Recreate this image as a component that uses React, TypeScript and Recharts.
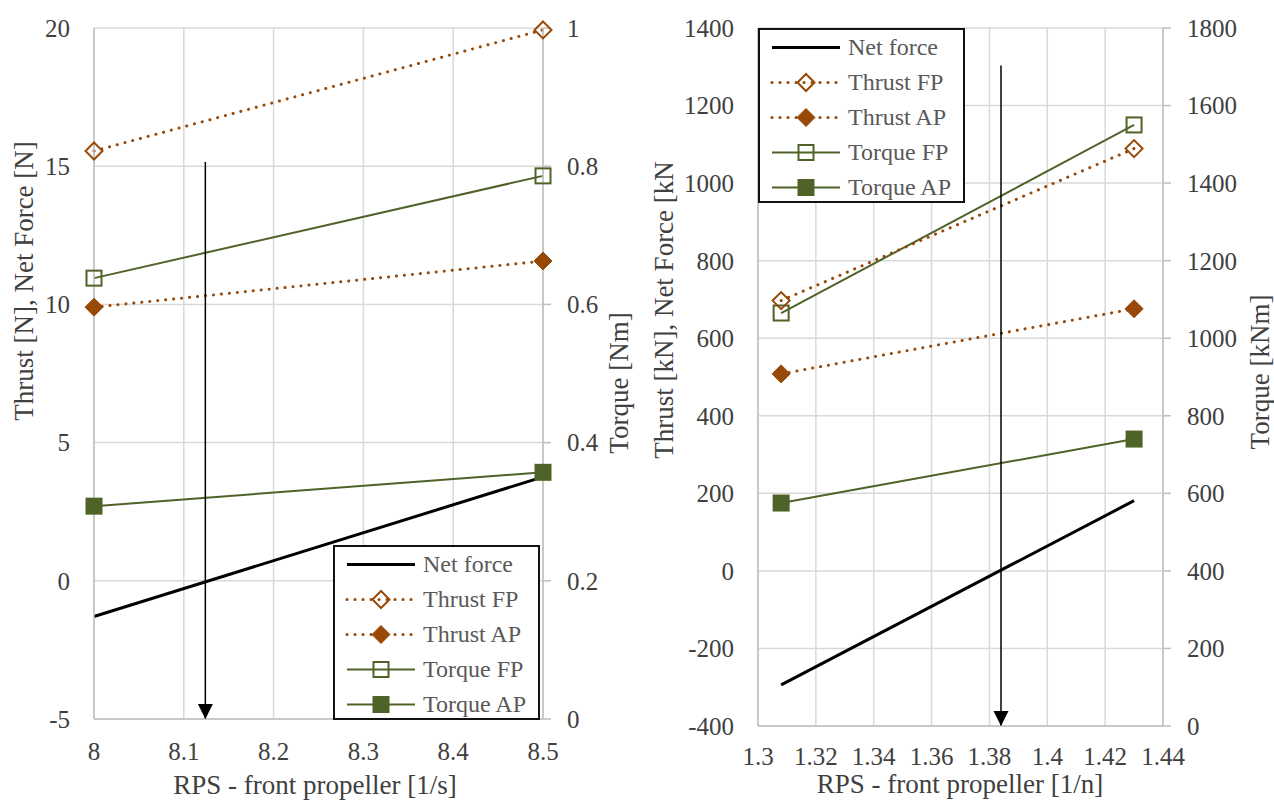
import React from 'react';
import { ComposedChart, Line, XAxis, YAxis, CartesianGrid, Legend } from 'recharts';

const FONT = 'Liberation Serif';
const BROWN = '#984807';
const GREEN = '#4F6228';
const GRID = '#d9d9d9';
const AXIS = '#bfbfbf';
const TEXT = '#404040';

// model scale (left chart)
const rpsModel = [8, 8.5];
const netForceModel = [-1.29, 3.76];
const thrustFpModel = [15.55, 19.93];
const thrustApModel = [9.9, 11.57];
const torqueFpModel = [0.638, 0.786];
const torqueApModel = [0.308, 0.357];
const arrowModelX = [8.124, 8.124];
const arrowModelY = [15.15, -5];
const modelXTicks = [8, 8.1, 8.2, 8.3, 8.4, 8.5];
const modelForceTicks = [-5, 0, 5, 10, 15, 20];
const modelTorqueTicks = [0, 0.2, 0.4, 0.6, 0.8, 1];

// full scale (right chart)
const rpsShip = [1.308, 1.43];
const netForceShip = [-294, 181];
const thrustFpShip = [697, 1089];
const thrustApShip = [508, 676];
const torqueFpShip = [1065, 1550];
const torqueApShip = [575, 740];
const arrowShipX = [1.384, 1.384];
const arrowShipY = [1303, -400];
const shipXTicks = [1.3, 1.32, 1.34, 1.36, 1.38, 1.4, 1.42, 1.44];
const shipForceTicks = [-400, -200, 0, 200, 400, 600, 800, 1000, 1200, 1400];
const shipTorqueTicks = [0, 200, 400, 600, 800, 1000, 1200, 1400, 1600, 1800];

const pts = (xs: number[], ys: number[]) => xs.map((x, i) => ({ x, y: ys[i] }));

const DOTTED = '0.1 7.9';

const diamondPath = (cx: number, cy: number, r: number) =>
  `M${cx},${cy - r}L${cx + r},${cy}L${cx},${cy + r}L${cx - r},${cy}Z`;

const marker = (kind: string, cx: number, cy: number, key?: any) => {
  if (kind === 'diamondOpen')
    return <path key={key} d={diamondPath(cx, cy, 8.5)} fill="none" stroke={BROWN} strokeWidth={2} />;
  if (kind === 'diamond')
    return <path key={key} d={diamondPath(cx, cy, 9)} fill={BROWN} stroke={BROWN} strokeWidth={1} />;
  if (kind === 'squareOpen')
    return <rect key={key} x={cx - 7.5} y={cy - 7.5} width={15} height={15} fill="none" stroke={GREEN} strokeWidth={2} />;
  if (kind === 'square')
    return <rect key={key} x={cx - 8.5} y={cy - 8.5} width={17} height={17} fill={GREEN} />;
  return <g key={key} />;
};

const dotOf = (kind: string) => (p: any) => {
  const k = p.key ?? `d-${p.index}`;
  if (p.cx == null || p.cy == null) return <g key={k} />;
  return marker(kind, p.cx, p.cy, k);
};

const arrowHead = (p: any) => {
  const k = p.key ?? `a-${p.index}`;
  if (p.index !== 1 || p.cx == null) return <g key={k} />;
  const { cx, cy } = p;
  return <path key={k} d={`M${cx - 7.5},${cy - 15}L${cx + 7.5},${cy - 15}L${cx},${cy}Z`} fill="#000" />;
};

const LEGEND_ITEMS = [
  { name: 'Net force', color: '#000', dash: undefined, width: 3, kind: 'none' },
  { name: 'Thrust FP', color: BROWN, dash: DOTTED, width: 3, kind: 'diamondOpen' },
  { name: 'Thrust AP', color: BROWN, dash: DOTTED, width: 3, kind: 'diamond' },
  { name: 'Torque FP', color: GREEN, dash: undefined, width: 2, kind: 'squareOpen' },
  { name: 'Torque AP', color: GREEN, dash: undefined, width: 2, kind: 'square' },
];

const LegendBox = () => (
  <div
    style={{
      width: 207,
      height: 175,
      boxSizing: 'border-box',
      border: '2px solid #111',
      background: '#fff',
      fontFamily: FONT,
      fontSize: 24,
      color: '#595959',
    }}
  >
    {LEGEND_ITEMS.map((it) => (
      <div key={it.name} style={{ height: 35, display: 'flex', alignItems: 'center' }}>
        <svg width={88} height={35} style={{ flex: 'none' }}>
          <line
            x1={12}
            x2={80}
            y1={17.5}
            y2={17.5}
            stroke={it.color}
            strokeWidth={it.width}
            strokeDasharray={it.dash}
            strokeLinecap={it.dash ? 'round' : 'butt'}
          />
          {marker(it.kind, 46, 17.5)}
        </svg>
        <span style={{ whiteSpace: 'nowrap', lineHeight: '35px' }}>{it.name}</span>
      </div>
    ))}
  </div>
);

const RotTitle = ({ px, py, text }: any) => (
  <text
    x={px}
    y={py}
    transform={`rotate(-90 ${px} ${py})`}
    textAnchor="middle"
    fill={TEXT}
    fontSize={27}
    fontFamily={FONT}
  >
    {text}
  </text>
);

const FlatTitle = ({ px, py, text }: any) => (
  <text x={px} y={py} textAnchor="middle" fill={TEXT} fontSize={27} fontFamily={FONT}>
    {text}
  </text>
);

const tickStyle = { fill: TEXT, fontSize: 25, fontFamily: FONT };

function Panel(props: any) {
  const {
    width, xs, net, tfp, tap, qfp, qap, ax, ay, xTicks, fTicks, qTicks,
    leftW, rightW, xH, xLabel, yLabel, qLabel, legendPos, xTickGap,
  } = props;
  return (
    <ComposedChart width={width} height={801} margin={{ top: 28, right: 0, bottom: 0, left: 0 }}>
      <CartesianGrid yAxisId="force" stroke={GRID} strokeWidth={1.5} />
      <XAxis
        type="number"
        dataKey="x"
        domain={[xTicks[0], xTicks[xTicks.length - 1]]}
        ticks={xTicks}
        height={xH}
        tick={tickStyle}
        tickLine={false}
        tickSize={0}
        tickMargin={xTickGap}
        axisLine={{ stroke: AXIS, strokeWidth: 1.5 }}
        label={<FlatTitle px={xLabel.x} py={xLabel.y} text={xLabel.text} />}
      />
      <YAxis
        yAxisId="force"
        type="number"
        domain={[fTicks[0], fTicks[fTicks.length - 1]]}
        ticks={fTicks}
        width={leftW}
        tick={tickStyle}
        tickLine={false}
        tickSize={0}
        tickMargin={24}
        axisLine={{ stroke: AXIS, strokeWidth: 1.5 }}
        label={<RotTitle px={yLabel.x} py={yLabel.y} text={yLabel.text} />}
      />
      <YAxis
        yAxisId="torque"
        orientation="right"
        type="number"
        domain={[qTicks[0], qTicks[qTicks.length - 1]]}
        ticks={qTicks}
        width={rightW}
        tick={tickStyle}
        tickLine={{ stroke: AXIS, strokeWidth: 1.5 }}
        tickSize={8}
        tickMargin={16}
        axisLine={{ stroke: AXIS, strokeWidth: 1.5 }}
        label={<RotTitle px={qLabel.x} py={qLabel.y} text={qLabel.text} />}
      />
      <Line
        yAxisId="torque"
        data={pts(xs, qap)}
        dataKey="y"
        type="linear"
        stroke={GREEN}
        strokeWidth={2}
        dot={dotOf('square')}
        activeDot={false}
        isAnimationActive={false}
      />
      <Line
        yAxisId="torque"
        data={pts(xs, qfp)}
        dataKey="y"
        type="linear"
        stroke={GREEN}
        strokeWidth={2}
        dot={dotOf('squareOpen')}
        activeDot={false}
        isAnimationActive={false}
      />
      <Line
        yAxisId="force"
        data={pts(xs, tap)}
        dataKey="y"
        type="linear"
        stroke={BROWN}
        strokeWidth={3}
        strokeDasharray={DOTTED}
        strokeLinecap="round"
        dot={dotOf('diamond')}
        activeDot={false}
        isAnimationActive={false}
      />
      <Line
        yAxisId="force"
        data={pts(xs, tfp)}
        dataKey="y"
        type="linear"
        stroke={BROWN}
        strokeWidth={3}
        strokeDasharray={DOTTED}
        strokeLinecap="round"
        dot={dotOf('diamondOpen')}
        activeDot={false}
        isAnimationActive={false}
      />
      <Line
        yAxisId="force"
        data={pts(xs, net)}
        dataKey="y"
        type="linear"
        stroke="#000"
        strokeWidth={3}
        dot={false}
        activeDot={false}
        isAnimationActive={false}
      />
      <Line
        yAxisId="force"
        data={pts(ax, ay)}
        dataKey="y"
        type="linear"
        stroke="#000"
        strokeWidth={1.5}
        dot={arrowHead}
        activeDot={false}
        isAnimationActive={false}
      />
      <Legend
        layout="vertical"
        align="center"
        verticalAlign="middle"
        content={() => <LegendBox />}
        wrapperStyle={{ left: legendPos.left, top: legendPos.top, width: 207, height: 175 }}
      />
    </ComposedChart>
  );
}

export default function App() {
  return (
    <div style={{ position: 'absolute', left: 0, top: 0, width: 1274, height: 801, background: '#fff' }}>
      <div style={{ position: 'absolute', left: 0, top: 0 }}>
        <Panel
          width={640}
          xs={rpsModel}
          net={netForceModel}
          tfp={thrustFpModel}
          tap={thrustApModel}
          qfp={torqueFpModel}
          qap={torqueApModel}
          ax={arrowModelX}
          ay={arrowModelY}
          xTicks={modelXTicks}
          fTicks={modelForceTicks}
          qTicks={modelTorqueTicks}
          leftW={94}
          rightW={97}
          xH={82}
          xTickGap={23}
          xLabel={{ x: 315, y: 794, text: 'RPS - front propeller [1/s]' }}
          yLabel={{ x: 33, y: 281, text: 'Thrust [N], Net Force [N]' }}
          qLabel={{ x: 628, y: 383, text: 'Torque [Nm]' }}
          legendPos={{ left: 333, top: 545 }}
        />
      </div>
      <div style={{ position: 'absolute', left: 640, top: 0 }}>
        <Panel
          width={634}
          xs={rpsShip}
          net={netForceShip}
          tfp={thrustFpShip}
          tap={thrustApShip}
          qfp={torqueFpShip}
          qap={torqueApShip}
          ax={arrowShipX}
          ay={arrowShipY}
          xTicks={shipXTicks}
          fTicks={shipForceTicks}
          qTicks={shipTorqueTicks}
          leftW={118}
          rightW={111}
          xH={75}
          xTickGap={21}
          xLabel={{ x: 320, y: 793, text: 'RPS - front propeller [1/n]' }}
          yLabel={{ x: 33, y: 310, text: 'Thrust [kN], Net Force [kN' }}
          qLabel={{ x: 629, y: 372, text: 'Torque [kNm]' }}
          legendPos={{ left: 118, top: 28 }}
        />
      </div>
    </div>
  );
}
